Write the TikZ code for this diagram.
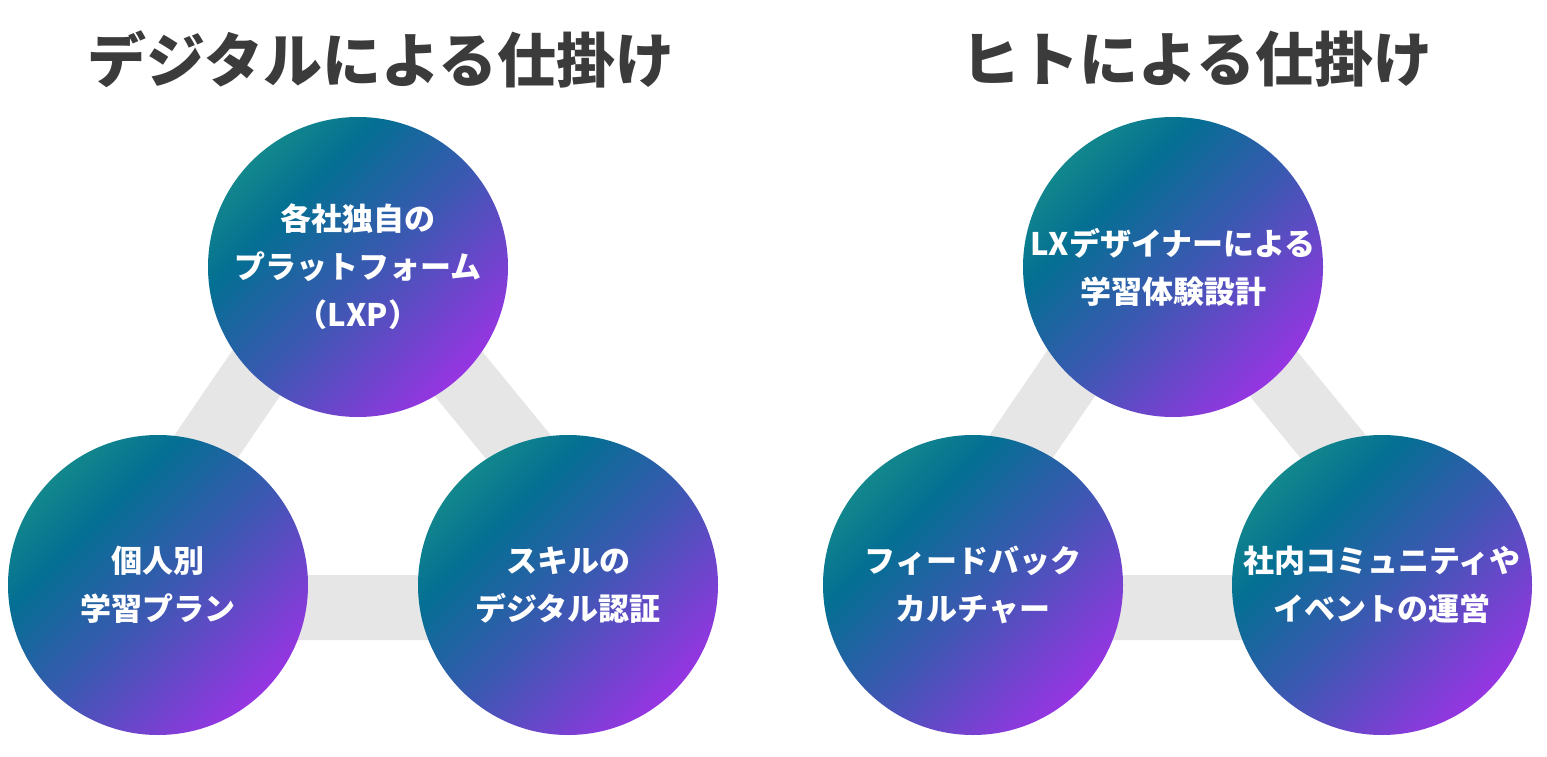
\documentclass[tikz,border=0pt]{standalone}
\usepackage{fontspec}
\newfontfamily\jp{Noto Sans CJK JP}
\definecolor{gA}{HTML}{12878C}
\definecolor{gB}{HTML}{046F93}
\definecolor{gC}{HTML}{3C58B2}
\definecolor{gD}{HTML}{9635E2}
\definecolor{barc}{HTML}{E6E6E6}
\definecolor{ttl}{HTML}{3B3B3B}
\pgfdeclarehorizontalshading{circgrad}{100bp}{color(0bp)=(gA); color(25bp)=(gA); color(35bp)=(gB); color(52bp)=(gC); color(75bp)=(gD); color(100bp)=(gD)}
\tikzset{
  bubble/.style={circle, inner sep=0pt, minimum size=300pt, shade, shading=circgrad, shading angle=-45, text=white, align=center, font=\jp\bfseries\fontsize{31}{48}\selectfont},
  link/.style={draw=barc, line width=65pt, line join=round},
  heading/.style={text=ttl, inner sep=0pt, font=\jp\bfseries\fontsize{59}{70}\selectfont}
}
\begin{document}
\begin{tikzpicture}[x=1pt,y=-1pt]
\fill[white] (0,0) rectangle (1547,757);
\useasboundingbox (0,0) rectangle (1547,757);
% triangle frames
\coordinate (la) at (96,607.5);
\coordinate (lb) at (348,239);
\coordinate (lc) at (650,607.5);
\coordinate (ra) at (911,607.5);
\coordinate (rb) at (1163,239);
\coordinate (rc) at (1465,607.5);
\draw[link] (la) -- (lb) -- (lc) -- cycle;
\draw[link] (ra) -- (rb) -- (rc) -- cycle;
% left group
\node[bubble] (l1) at (358,267) {各社独自の\\プラットフォーム\\（LXP）};
\node[bubble] (l2) at (158,585) {個人別\\学習プラン};
\node[bubble] (l3) at (568,585) {スキルの\\デジタル認証};
% right group
\node[bubble] (r1) at (1173,267) {LXデザイナーによる\\学習体験設計};
\node[bubble] (r2) at (973,585) {フィードバック\\カルチャー};
\node[bubble] (r3) at (1382,585) {社内コミュニティや\\イベントの運営};
% titles
\node[heading] (t1) at (381,59) {デジタルによる仕掛け};
\node[heading] (t2) at (1197,59) {ヒトによる仕掛け};
\end{tikzpicture}
\end{document}
